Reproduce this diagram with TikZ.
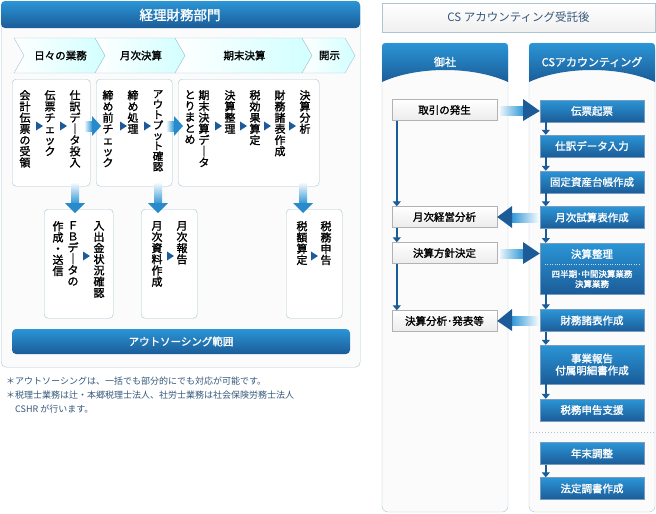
\documentclass[tikz,border=0pt]{standalone}
\usepackage{fontspec}
\setmainfont{Noto Sans CJK JP}
\newfontfamily\jpb{Noto Sans CJK JP}[FakeBold=1.5]
\usetikzlibrary{arrows.meta,calc}
\definecolor{dk}{HTML}{1B5C98}
\definecolor{lt}{HTML}{2B95D6}
\definecolor{fr}{HTML}{A9C6D2}
\definecolor{nt}{HTML}{34577A}
\tikzset{
 vt/.style={align=center,anchor=north,inner sep=0pt,font=\jpb\fontsize{11}{11.2}\selectfont},
 tri/.style={fill=dk},
 wbox/.style={draw=fr,fill=white,rounded corners=4pt},
 lbox/.style={draw=gray!60,top color=white,bottom color=gray!15,minimum width=105pt,minimum height=21pt,inner sep=0pt,font=\jpb\fontsize{10.5}{12}\selectfont},
 rbox/.style={draw=dk!60,top color=lt,bottom color=dk,text=white,minimum width=104pt,minimum height=22pt,inner sep=0pt,font=\jpb\fontsize{10.5}{12}\selectfont,align=center},
 sarr/.style={-{Triangle[length=5pt,width=8pt]},dk,line width=2pt},
}
\newcommand\rtri[2]{\fill[dk] (#1-3,#2-4.5) -- (#1+4,#2) -- (#1-3,#2+4.5) -- cycle;}
\newcommand\downarr[3]{% x, y0, y1
 \shade[top color=white,bottom color=lt] (#1-4,#2) rectangle (#1+4,#3-9);
 \fill[lt!80!dk] (#1-10,#3-10) -- (#1+10,#3-10) -- (#1,#3) -- cycle;}
\begin{document}
\begin{tikzpicture}[x=1pt,y=-1pt]
\useasboundingbox (0,0) rectangle (656,514);
% ---------- left panel
\node[draw=fr,fill=gray!3,rounded corners=5pt,minimum width=359pt,minimum height=366pt,anchor=north west,inner sep=0] (lp) at (1,1) {};
\shade[top color=lt,bottom color=dk,rounded corners=4pt] (1,1) rectangle (360,28);
\node[text=white,font=\jpb\fontsize{13.5}{14}\selectfont] (lh) at (180,15) {経理財務部門};
% chevrons
\foreach \a/\b/\t in {14/95/日々の業務,95/175/月次決算,175/302/期末決算,302/345/開示}{
 \shade[left color=white,right color=cyan!18,draw=fr] (\a,38) -- (\b,38) -- (\b+10,55.5) -- (\b,73) -- (\a,73) -- (\a+10,55.5) -- cycle;
 \node[font=\jpb\fontsize{10.5}{12}\selectfont] at ({(\a+\b)/2+6},55.5) {\t};}
% boxes row 1
\node[wbox,minimum width=78pt,minimum height=107pt,anchor=north west] (b1) at (12,79) {};
\node[wbox,minimum width=76pt,minimum height=107pt,anchor=north west] (b2) at (96,79) {};
\node[wbox,minimum width=141pt,minimum height=107pt,anchor=north west] (b3) at (178,79) {};
\node[vt] (t11) at (25,90) {会\\計\\伝\\票\\の\\受\\領};
\node[vt] (t12) at (50,90) {伝\\票\\チ\\ェ\\ッ\\ク};
\node[vt] (t13) at (75,90) {仕\\訳\\デ\\｜\\タ\\投\\入};
\rtri{39}{126}\rtri{63}{126}
\node[vt] (t21) at (108,90) {締\\め\\前\\チ\\ェ\\ッ\\ク};
\node[vt] (t22) at (133,90) {締\\め\\処\\理};
\node[vt,font=\jpb\fontsize{10.5}{10.4}\selectfont] (t23) at (158,90) {ア\\ウ\\ト\\プ\\ッ\\ト\\確\\認};
\rtri{123}{126}\rtri{147}{126}
\node[vt] (t31) at (190,90) {と\\り\\ま\\と\\め};
\node[vt] (t32) at (204,90) {期\\末\\決\\算\\デ\\｜\\タ};
\node[vt] (t33) at (230,90) {決\\算\\整\\理};
\node[vt] (t34) at (255,90) {税\\効\\果\\算\\定};
\node[vt] (t35) at (280,90) {財\\務\\諸\\表\\作\\成};
\node[vt] (t36) at (305,90) {決\\算\\分\\析};
\rtri{218}{126}\rtri{243}{126}\rtri{267}{126}\rtri{292}{126}
% arrows between boxes
\shade[left color=white,right color=lt] (84,121) rectangle (92,131); \fill[lt!80!dk] (92,116) -- (101,126) -- (92,136) -- cycle;
\shade[left color=white,right color=lt] (166,121) rectangle (174,131); \fill[lt!80!dk] (174,116) -- (183,126) -- (174,136) -- cycle;
% boxes row 2
\node[wbox,minimum width=69pt,minimum height=109pt,anchor=north west] (c1) at (44,209) {};
\node[wbox,minimum width=56pt,minimum height=109pt,anchor=north west] (c2) at (141,209) {};
\node[wbox,minimum width=56pt,minimum height=109pt,anchor=north west] (c3) at (286,209) {};
% down arrows
\downarr{75}{182}{213}\downarr{158}{182}{213}\downarr{303}{182}{213}
\node[vt] (u11) at (58,221) {作\\成\\・\\送\\信};
\node[vt] (u12) at (73,221) {Ｆ\\Ｂ\\デ\\｜\\タ\\の};
\node[vt] (u13) at (99,221) {入\\出\\金\\状\\況\\確\\認};
\rtri{86}{256}
\node[vt] (u21) at (157,221) {月\\次\\資\\料\\作\\成};
\node[vt] (u22) at (182,221) {月\\次\\報\\告};
\rtri{170}{256}
\node[vt] (u31) at (302,221) {税\\額\\算\\定};
\node[vt] (u32) at (326,221) {税\\務\\申\\告};
\rtri{314}{256}
% outsourcing bar
\node[top color=lt,bottom color=dk,rounded corners=4pt,minimum width=338pt,minimum height=25pt,text=white,font=\jpb\fontsize{10.5}{12}\selectfont] (ob) at (181,341.5) {アウトソーシング範囲};
% notes
\node[anchor=west,text=nt,font=\fontsize{9}{10}\selectfont,inner sep=0] (n1) at (6,381) {＊アウトソーシングは、一括でも部分的にでも対応が可能です。};
\node[anchor=west,text=nt,font=\fontsize{9}{10}\selectfont,inner sep=0] (n2) at (6,395) {＊税理士業務は辻・本郷税理士法人、社労士業務は社会保険労務士法人};
\node[anchor=west,text=nt,font=\fontsize{9}{10}\selectfont,inner sep=0] (n3) at (15,409) {CSHR が行います。};
% ---------- right side
\node[draw=fr,top color=white,bottom color=gray!12,minimum width=273pt,minimum height=29pt,text=nt,font=\fontsize{11.5}{13}\selectfont] (rt) at (518.5,17.5) {CS アカウンティング受託後};
\foreach \a/\b/\t/\n in {382/508/御社/ca,529/655/CSアカウンティング/cb}{
 \draw[fr,fill=gray!3,rounded corners=6pt] (\a,43) rectangle (\b,512);
 \shade[top color=lt,bottom color=dk] (\a,82) -- (\a,50) .. controls (\a,43) .. (\a+7,43) -- (\b-7,43) .. controls (\b,43) .. (\b,50) -- (\b,82) .. controls (\b-35,66) and (\a+35,66) .. (\a,82) -- cycle;
 \node[text=white,font=\jpb\fontsize{11}{12}\selectfont] (\n) at ({(\a+\b)/2},62) {\t};}
% left boxes
\node[lbox] (l1) at (444.5,110) {取引の発生};
\node[lbox] (l2) at (444.5,217) {月次経営分析};
\node[lbox] (l3) at (444.5,253) {決算方針決定};
\node[lbox] (l4) at (444.5,321) {決算分析･発表等};
% right boxes
\node[rbox] (r1) at (592,111) {伝票起票};
\node[rbox] (r2) at (592,146) {仕訳データ入力};
\node[rbox] (r3) at (592,182) {固定資産台帳作成};
\node[rbox] (r4) at (592,217.5) {月次試算表作成};
\node[rbox,minimum height=51pt,anchor=north] (r5) at (592,243) {};
\node[text=white,font=\jpb\fontsize{10.5}{12}\selectfont] (r5a) at (592,254) {決算整理};
\draw[white!70!lt,dotted] (545,264) -- (639,264);
\node[text=white,align=center,font=\jpb\fontsize{8.5}{10}\selectfont] (r5b) at (592,279) {四半期･中間決算業務\\決算業務};
\node[rbox] (r6) at (592,320.5) {財務諸表作成};
\node[rbox,minimum height=39pt] (r7) at (592,364.5) {事業報告\\付属明細書作成};
\node[rbox] (r8) at (592,410) {税務申告支援};
\draw[fr,dotted,line width=1pt] (530,432) -- (654,432);
\node[rbox] (r9) at (592,453.5) {年末調整};
\node[rbox] (r10) at (592,488.5) {法定調書作成};
% small arrows right column
\foreach \p/\q in {r1/r2,r2/r3,r3/r4,r4/r5,r5/r6,r6/r7,r7/r8,r9/r10}
 \draw[sarr] ([xshift=6pt]\p.south west) -- ([xshift=6pt]\q.north west);
% left column arrows
\draw[sarr] ([xshift=5pt]l1.south west) -- ([xshift=5pt]l2.north west);
\draw[sarr] ([xshift=5pt]l2.south west) -- ([xshift=5pt]l3.north west);
\draw[sarr] ([xshift=5pt]l3.south west) -- ([xshift=5pt]l4.north west);
% horizontal big arrows
\shade[left color=white,right color=lt] (l1.east|-0,106) ++(3,0) rectangle (524,115); \fill[dk] (523,99) -- (r1.west) -- (523,121) -- cycle;
\shade[left color=white,right color=lt] (l3.east|-0,249) ++(3,0) rectangle (524,258); \fill[dk] (523,242) -- (r5.west|-0,253.5) -- (523,264) -- cycle;
\shade[right color=white,left color=lt] (511,213) rectangle (r4.west|-0,222) ; \fill[dk] (512,206) -- (l2.east) -- (512,228) -- cycle;
\shade[right color=white,left color=lt] (511,316) rectangle (r6.west|-0,325) ; \fill[dk] (512,309) -- (l4.east) -- (512,331) -- cycle;
\end{tikzpicture}
\end{document}
